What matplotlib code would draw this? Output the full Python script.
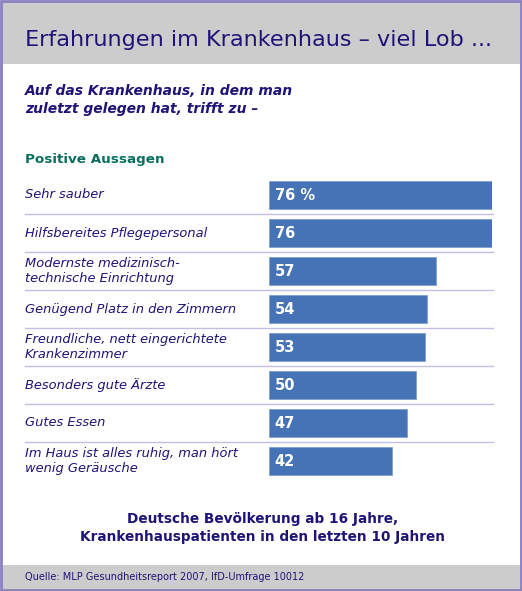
import matplotlib
matplotlib.use("Agg")
import matplotlib.pyplot as plt
import matplotlib.transforms as mtransforms
from matplotlib.patches import Rectangle

# Data
labels = ["Sehr sauber",
          "Hilfsbereites Pflegepersonal",
          "Modernste medizinisch-\ntechnische Einrichtung",
          "Genügend Platz in den Zimmern",
          "Freundliche, nett eingerichtete\nKrankenzimmer",
          "Besonders gute Ärzte",
          "Gutes Essen",
          "Im Haus ist alles ruhig, man hört\nwenig Geräusche"]
values = [76, 76, 57, 54, 53, 50, 47, 42]
value_texts = ["76 %", "76", "57", "54", "53", "50", "47", "42"]

W, H = 522, 591
navy = "#1e1478"
bar_color = "#4673b5"

fig = plt.figure(figsize=(W / 100, H / 100), dpi=100)

# background axes in pixel coordinates
bg = fig.add_axes([0, 0, 1, 1])
bg.set_xlim(0, W)
bg.set_ylim(H, 0)
bg.axis("off")
bg.add_patch(Rectangle((0, 0), W, H, facecolor="white", edgecolor="none"))
bg.add_patch(Rectangle((2, 2), W - 4, 62, facecolor="#cccccc", edgecolor="none"))
bg.add_patch(Rectangle((2, 565), W - 4, 24, facecolor="#cccccc", edgecolor="none"))
bg.add_patch(Rectangle((1, 1), W - 2, H - 2, facecolor="none", edgecolor="#8a7fbf", lw=2))

bg.text(25, 40, "Erfahrungen im Krankenhaus – viel Lob ...", fontsize=16.1,
        color=navy, va="center", ha="left")
bg.text(25, 100, "Auf das Krankenhaus, in dem man\nzuletzt gelegen hat, trifft zu –",
        fontsize=10, color=navy, fontweight="bold", style="italic",
        va="center", ha="left", linespacing=1.4)
bg.text(25, 159, "Positive Aussagen", fontsize=9.7, color="#0a6e5e",
        fontweight="bold", va="center", ha="left")
bg.text(263, 528, "Deutsche Bevölkerung ab 16 Jahre,\nKrankenhauspatienten in den letzten 10 Jahren",
        fontsize=9.8, color=navy, fontweight="bold", ha="center", va="center",
        linespacing=1.45)
bg.text(25, 577, "Quelle: MLP Gesundheitsreport 2007, IfD-Umfrage 10012",
        fontsize=7, color=navy, va="center", ha="left")

# bar axes: x 269..492 px for 0..76, rows 38 px tall from y=176
x0, x1 = 269, 492
top, row_h = 176, 38
n = len(values)
ax = fig.add_axes([x0 / W, 1 - (top + n * row_h) / H, (x1 - x0) / W, n * row_h / H])
ax.patch.set_alpha(0)
ax.set_xlim(0, 76)
ax.set_ylim(n - 0.5, -0.5)
ax.axis("off")

pos = list(range(n))
ax.barh(pos, values, height=28 / row_h, color=bar_color, edgecolor="#7f9fd0", lw=0.6)

trans = mtransforms.blended_transform_factory(fig.transFigure, ax.transData)
for i in pos:
    ax.text(25 / W, i, labels[i], transform=trans, fontsize=9.4, style="italic",
            color=navy, va="center", ha="left", linespacing=1.25)
    ax.text(2, i, value_texts[i], color="white", fontsize=10.5, fontweight="bold",
            va="center", ha="left")
for i in range(n - 1):
    ax.plot([25 / W, 493 / W], [i + 0.5, i + 0.5], transform=trans,
            color="#c4bfe0", lw=1, clip_on=False)

fig.savefig("out.png", dpi=100)
